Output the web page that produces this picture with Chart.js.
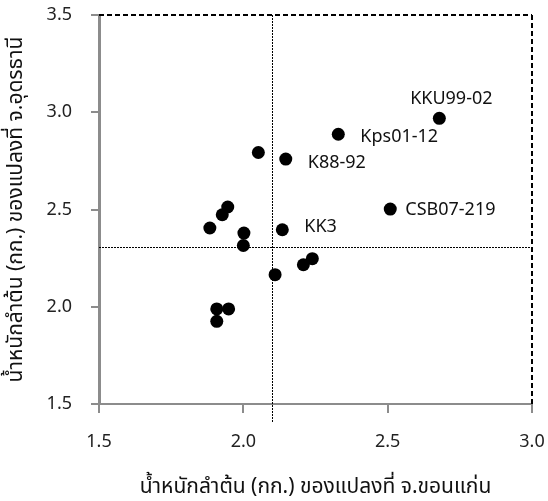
<!DOCTYPE html>
<html>
<head>
<meta charset="utf-8">
<script src="https://cdn.jsdelivr.net/npm/chart.js@4.4.1/dist/chart.umd.min.js"></script>
<style>
  html, body { margin: 0; padding: 0; background: #fff; }
  #wrap { width: 548px; height: 501px; position: relative; }
</style>
</head>
<body>
<div id="wrap"><canvas id="c" width="548" height="501"></canvas></div>
<script>
// ---- data ----
const xValues = [2.679, 2.329, 2.147, 2.509, 2.135, 2.052, 1.946, 1.927, 1.884, 2.002, 2.000, 2.110, 2.208, 2.239, 1.908, 1.949, 1.908];
const yValues = [2.969, 2.887, 2.759, 2.502, 2.396, 2.793, 2.513, 2.473, 2.405, 2.379, 2.315, 2.165, 2.216, 2.247, 1.989, 1.989, 1.925];
const pointNames = ['KKU99-02', 'Kps01-12', 'K88-92', 'CSB07-219', 'KK3', '', '', '', '', '', '', '', '', '', '', '', ''];
const xTicks = [1.5, 2.0, 2.5, 3.0];
const yTicks = [1.5, 2.0, 2.5, 3.0, 3.5];
const refX = [2.098];
const refY = [2.307];
const xTitle = 'น้ำหนักลำต้น (กก.) ของแปลงที่ จ.ขอนแก่น';
const yTitle = 'น้ำหนักลำต้น (กก.) ของแปลงที่ จ.อุดรธานี';

// ---- label placement (style, not data) ----
const labelPlacement = {
  'KKU99-02': { dx: 12, dy: -19, align: 'center' },
  'Kps01-12': { dx: 22, dy: 3, align: 'left' },
  'K88-92': { dx: 22, dy: 3.5, align: 'left' },
  'CSB07-219': { dx: 15, dy: 1, align: 'left' },
  'KK3': { dx: 22, dy: -3, align: 'left' }
};

const FONT = '"Noto Sans", "Noto Sans Thai", sans-serif';
const points = xValues.map((x, i) => ({ x: x, y: yValues[i] }));

const decor = {
  id: 'decor',
  beforeDatasetsDraw(chart) {
    const { ctx, chartArea: a, scales } = chart;
    ctx.save();
    ctx.strokeStyle = '#000';
    ctx.lineWidth = 1;
    ctx.setLineDash([2, 1]);
    refX.forEach(v => {
      const px = Math.round(scales.x.getPixelForValue(v)) + 0.5;
      ctx.beginPath(); ctx.moveTo(px, a.top); ctx.lineTo(px, a.bottom + 19); ctx.stroke();
    });
    refY.forEach(v => {
      const py = Math.round(scales.y.getPixelForValue(v)) + 0.5;
      ctx.beginPath(); ctx.moveTo(a.left, py); ctx.lineTo(a.right, py); ctx.stroke();
    });
    // dashed top/right frame
    ctx.lineWidth = 2;
    ctx.setLineDash([5, 3]);
    ctx.beginPath(); ctx.moveTo(a.left, a.top); ctx.lineTo(a.right, a.top); ctx.stroke();
    ctx.beginPath(); ctx.moveTo(a.right, a.top); ctx.lineTo(a.right, a.bottom); ctx.stroke();
    ctx.restore();
  },
  afterDatasetsDraw(chart) {
    const { ctx } = chart;
    const meta = chart.getDatasetMeta(0);
    ctx.save();
    ctx.font = '18px ' + FONT;
    ctx.fillStyle = '#111';
    ctx.textBaseline = 'middle';
    pointNames.forEach((name, i) => {
      if (!name) return;
      const el = meta.data[i];
      const p = labelPlacement[name] || { dx: 12, dy: 0, align: 'left' };
      ctx.textAlign = p.align;
      ctx.fillText(name, el.x + p.dx, el.y + p.dy);
    });
    ctx.restore();
  }
};

new Chart(document.getElementById('c'), {
  type: 'scatter',
  data: {
    datasets: [{
      data: points,
      backgroundColor: '#000',
      borderWidth: 0,
      pointRadius: 6.5,
      pointHoverRadius: 6.5
    }]
  },
  options: {
    responsive: false,
    animation: false,
    devicePixelRatio: 1,
    layout: { padding: { top: 15, right: 16, bottom: 0, left: 0 } },
    plugins: { legend: { display: false }, tooltip: { enabled: false } },
    scales: {
      x: {
        type: 'linear',
        min: 1.5, max: 3.0,
        afterBuildTicks(scale) { scale.ticks = xTicks.map(v => ({ value: v })); },
        afterFit(scale) { scale.height = 97; scale.paddingLeft = 0; scale.paddingRight = 0; },
        ticks: {
          font: { family: FONT, size: 18 },
          color: '#222',
          padding: 18,
          maxRotation: 0,
          callback: v => Number(v).toFixed(1)
        },
        grid: { display: true, drawOnChartArea: false, drawTicks: true, tickLength: 9, color: '#8c8c8c', lineWidth: 2 },
        border: { display: true, color: '#8c8c8c', width: 2 },
        title: { display: true, text: xTitle, font: { family: FONT, size: 21 }, color: '#111', padding: { top: 0, bottom: 1 } }
      },
      y: {
        type: 'linear',
        min: 1.5, max: 3.5,
        afterBuildTicks(scale) { scale.ticks = yTicks.map(v => ({ value: v })); },
        afterFit(scale) { scale.width = 99; scale.paddingTop = 0; scale.paddingBottom = 0; },
        ticks: {
          font: { family: FONT, size: 18 },
          color: '#222',
          padding: 19,
          callback: v => Number(v).toFixed(1)
        },
        grid: { display: true, drawOnChartArea: false, drawTicks: true, tickLength: 8, color: '#8c8c8c', lineWidth: 2 },
        border: { display: true, color: '#8c8c8c', width: 3 },
        title: { display: true, text: yTitle, font: { family: FONT, size: 21 }, color: '#111', padding: { top: 3, bottom: 0 } }
      }
    }
  },
  plugins: [decor]
});
</script>
</body>
</html>
